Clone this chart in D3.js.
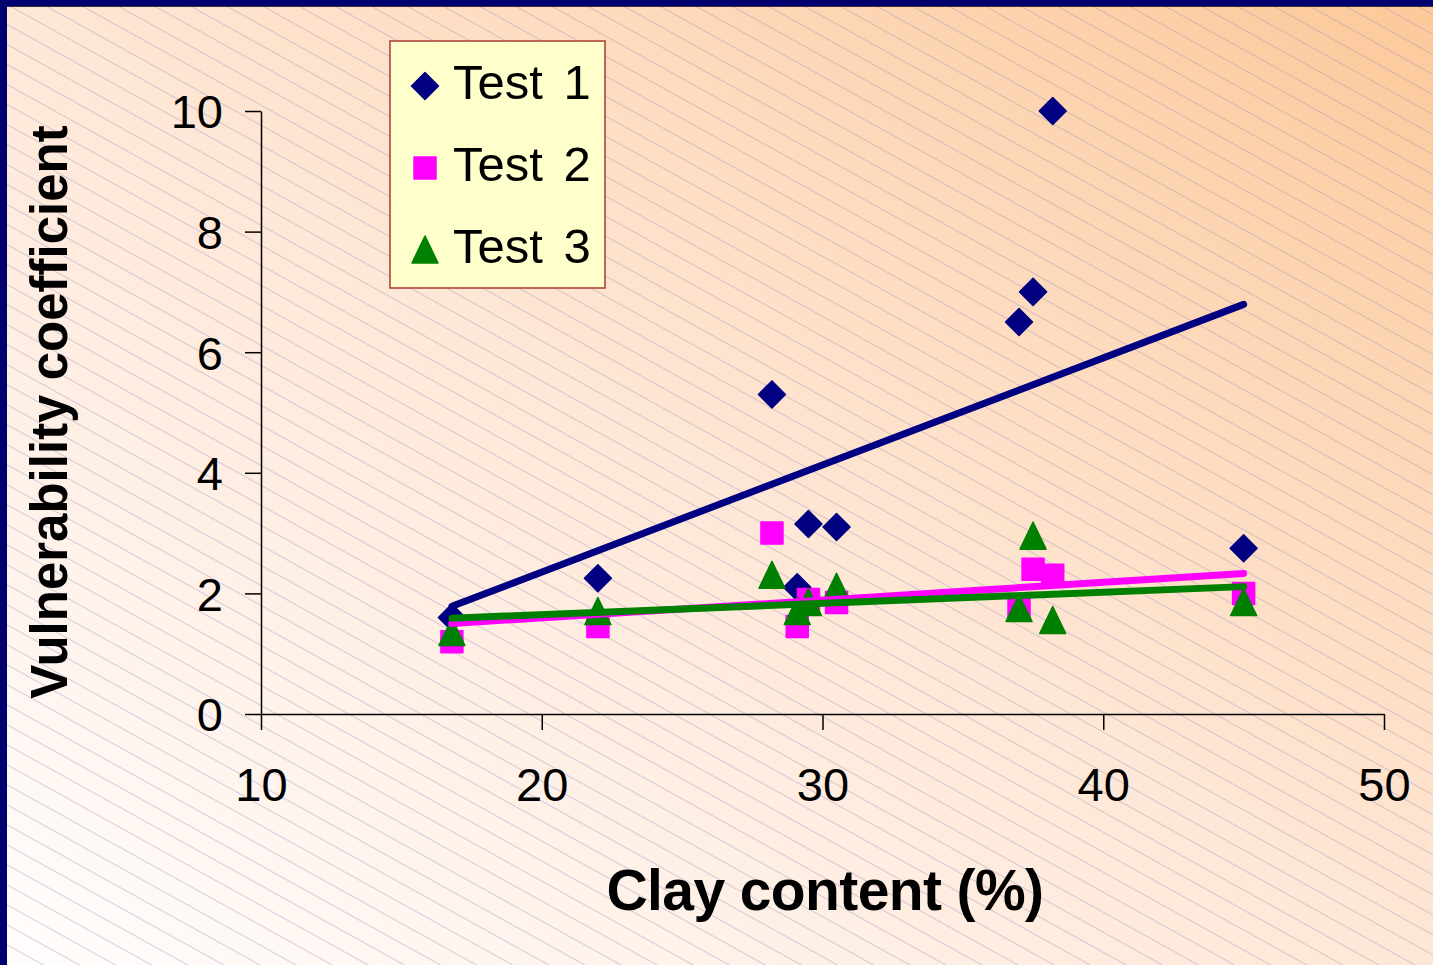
<!DOCTYPE html>
<html>
<head>
<meta charset="utf-8">
<script src="https://cdn.jsdelivr.net/npm/d3@7"></script>
<style>
  html, body { margin: 0; padding: 0; background: #fff; }
  svg { display: block; font-family: "Liberation Sans", Arial, sans-serif; }
</style>
</head>
<body>
<svg id="chart" width="1433" height="965"></svg>
<script>
// Clay content (%) of each soil sample
const clay = [16.8, 22, 28.2, 29.1, 29.5, 30.5, 37, 37.5, 38.2, 45];
// Vulnerability coefficient per test
const test1 = [1.6, 2.25, 5.3, 2.1, 3.15, 3.1, 6.5, 7.0, 10, 2.75];
const test2 = [1.2, 1.45, 3.0, 1.45, 1.9, 1.85, 1.75, 2.4, 2.3, 2.0];
const test3 = [1.3, 1.65, 2.25, 1.65, 1.8, 2.05, 1.7, 2.9, 1.5, 1.8];
const seriesNames = ["Test 1", "Test 2", "Test 3"];
const xTicks = [10, 20, 30, 40, 50];
const yTicks = [0, 2, 4, 6, 8, 10];

const W = 1433, H = 965;
const svg = d3.select("#chart");
const defs = svg.append("defs");

// Background: soft diagonal gradient with fine hatch lines
const grad = defs.append("linearGradient").attr("id", "bg")
  .attr("x1", 0).attr("y1", 1).attr("x2", 1).attr("y2", 0);
grad.append("stop").attr("offset", 0).attr("stop-color", "#fffdfc");
grad.append("stop").attr("offset", 0.5).attr("stop-color", "#fee7d6");
grad.append("stop").attr("offset", 1).attr("stop-color", "#fcc99a");

const hatch = defs.append("pattern").attr("id", "hatch")
  .attr("patternUnits", "userSpaceOnUse")
  .attr("width", 40).attr("height", 17.5)
  .attr("patternTransform", "rotate(29)");
hatch.append("line").attr("x1", 0).attr("x2", 40).attr("y1", 0.5).attr("y2", 0.5)
  .attr("stroke", "#9a8cc0").attr("stroke-opacity", 0.42).attr("stroke-width", 1);

svg.append("rect").attr("width", W).attr("height", H).attr("fill", "url(#bg)");
svg.append("rect").attr("width", W).attr("height", H).attr("fill", "url(#hatch)");

// Frame on top and left edges
svg.append("rect").attr("x", 0).attr("y", 0).attr("width", W).attr("height", 6).attr("fill", "#00006e");
svg.append("rect").attr("x", 0).attr("y", 6).attr("width", W).attr("height", 1).attr("fill", "#3a2e3a");
svg.append("rect").attr("x", 0).attr("y", 0).attr("width", 7).attr("height", H).attr("fill", "#00006e");

// Scales
const x = d3.scaleLinear().domain([10, 50]).range([261, 1384]);
const y = d3.scaleLinear().domain([0, 10]).range([714, 111]);

// Axes
const xAxis = d3.axisBottom(x).tickValues(xTicks).tickSize(16).tickPadding(38).tickSizeOuter(0);
const yAxis = d3.axisLeft(y).tickValues(yTicks).tickSize(16).tickPadding(22).tickSizeOuter(0);

const gx = svg.append("g").attr("transform", `translate(0,${y(0)})`).call(xAxis);
const gy = svg.append("g").attr("transform", `translate(${x(10)},0)`).call(yAxis);
[gx, gy].forEach(g => {
  g.select(".domain").attr("stroke", "#000").attr("stroke-width", 1.5);
  g.selectAll(".tick line").attr("stroke", "#000").attr("stroke-width", 1.5);
  g.selectAll(".tick text").attr("fill", "#000")
    .style("font-family", "'Liberation Sans', Arial, sans-serif")
    .style("font-size", "47px");
});
gy.selectAll(".tick text").attr("dy", "0.36em");

// Axis titles
svg.append("text").attr("x", 825).attr("y", 910).attr("text-anchor", "middle")
  .style("font-size", "57px").style("font-weight", "bold").attr("fill", "#000")
  .attr("letter-spacing", "-0.6")
  .text("Clay content (%)");
svg.append("text").attr("transform", "translate(67,412) rotate(-90)")
  .attr("text-anchor", "middle")
  .style("font-size", "51px").style("font-weight", "bold").attr("fill", "#000")
  .text("Vulnerability coefficient");

// Marker shapes
const markers = {
  diamond: (cx, cy) => `M${cx},${cy - 13.5}L${cx + 13.5},${cy}L${cx},${cy + 13.5}L${cx - 13.5},${cy}Z`,
  square: (cx, cy) => `M${cx - 11},${cy - 11}h22v22h-22Z`,
  triangle: (cx, cy) => `M${cx},${cy - 17}L${cx + 13},${cy + 10}L${cx - 13},${cy + 10}Z`
};

const series = [
  { name: seriesNames[0], values: test1, color: "#000080", shape: "diamond" },
  { name: seriesNames[1], values: test2, color: "#ff00ff", shape: "square" },
  { name: seriesNames[2], values: test3, color: "#008000", shape: "triangle" }
];

// Scatter points
series.forEach(s => {
  svg.append("g").selectAll("path")
    .data(clay.map((c, i) => [c, s.values[i]]))
    .join("path")
    .attr("d", d => markers[s.shape](x(d[0]), y(d[1])))
    .attr("fill", s.color).attr("stroke", s.color)
    .attr("stroke-width", 1.5).attr("stroke-linejoin", "round");
});

// Least-squares linear trend line for each test
function linearFit(xs, ys) {
  const mx = d3.mean(xs), my = d3.mean(ys);
  const sxy = d3.sum(xs, (v, i) => (v - mx) * (ys[i] - my));
  const sxx = d3.sum(xs, v => (v - mx) * (v - mx));
  const b = sxy / sxx;
  return v => my + b * (v - mx);
}
const xMin = d3.min(clay), xMax = d3.max(clay);
series.forEach(s => {
  const f = linearFit(clay, s.values);
  svg.append("path")
    .datum([xMin, xMax])
    .attr("d", d3.line().x(v => x(v)).y(v => y(f(v))))
    .attr("fill", "none").attr("stroke", s.color)
    .attr("stroke-width", 7).attr("stroke-linecap", "round");
});

// Legend
const lg = svg.append("g");
lg.append("rect").attr("x", 390).attr("y", 41).attr("width", 215).attr("height", 247)
  .attr("fill", "#ffffcc").attr("stroke", "#a83a32").attr("stroke-width", 1.5);
series.forEach((s, i) => {
  const cy = 86 + i * 82;
  lg.append("path").attr("d", markers[s.shape](425, s.shape === "triangle" ? cy + 3 : cy))
    .attr("fill", s.color).attr("stroke", s.color)
    .attr("stroke-width", 1.5).attr("stroke-linejoin", "round");
  lg.append("text").attr("x", 453).attr("y", cy + 13)
    .style("font-size", "49px").attr("fill", "#000")
    .attr("word-spacing", "7")
    .text(s.name);
});
</script>
</body>
</html>
